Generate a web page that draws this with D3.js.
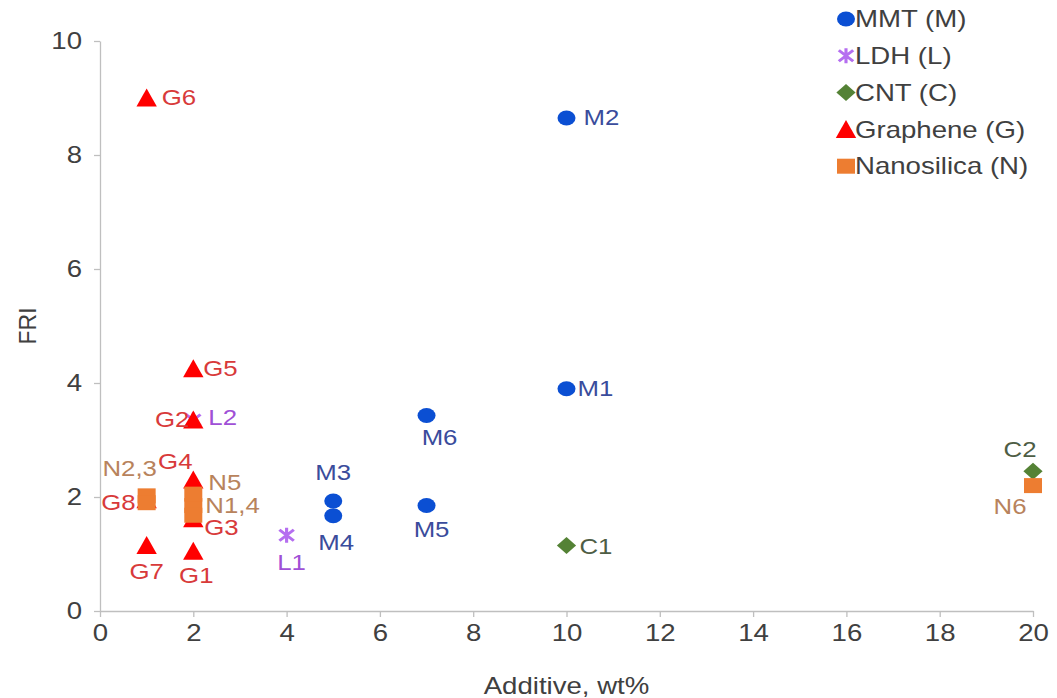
<!DOCTYPE html>
<html>
<head>
<meta charset="utf-8">
<script src="https://cdn.jsdelivr.net/npm/d3@7"></script>
<style>
  html, body { margin: 0; padding: 0; background: #ffffff; }
  svg { display: block; font-family: "Liberation Sans", Arial, sans-serif; }
</style>
</head>
<body>
<svg id="chart" width="1057" height="698"></svg>
<script>
// ---- data ----
const mmtX = [10, 10, 5, 5, 7, 7];
const mmtY = [3.9, 8.65, 1.93, 1.67, 1.85, 3.43];
const mmtLabels = ["M1", "M2", "M3", "M4", "M5", "M6"];

const ldhX = [4, 2];
const ldhY = [1.33, 3.35];
const ldhLabels = ["L1", "L2"];

const cntX = [10, 20];
const cntY = [1.15, 2.45];
const cntLabels = ["C1", "C2"];

const graX = [2, 2, 2, 2, 2, 1, 1, 1];
const graY = [1.05, 3.35, 1.62, 2.3, 4.25, 9.0, 1.15, 1.95];
const graLabels = ["G1", "G2", "G3", "G4", "G5", "G6", "G7", "G8"];

const nanoX = [2, 1, 1, 2, 2, 20];
const nanoY = [1.85, 2.02, 1.9, 1.68, 2.05, 2.2];
const nanoLabels = ["N1,4", "N2,3", "", "", "N5", "N6"];

const xTicks = [0, 2, 4, 6, 8, 10, 12, 14, 16, 18, 20];
const yTicks = [0, 2, 4, 6, 8, 10];
const xTitle = "Additive, wt%";
const yTitle = "FRI";

// ---- styling ----
const SX = 1.2;              // horizontal stretch applied to text and markers
const axisColor = "#bfbfbf";
const textColor = "#404040";

const series = [
  { name: "MMT (M)", xs: mmtX, ys: mmtY, labels: mmtLabels, shape: "circle", color: "#0b4fd3", labelColor: "#3a4c9c" },
  { name: "LDH (L)", xs: ldhX, ys: ldhY, labels: ldhLabels, shape: "asterisk", color: "#b56ef0", labelColor: "#a050d6" },
  { name: "CNT (C)", xs: cntX, ys: cntY, labels: cntLabels, shape: "diamond", color: "#548235", labelColor: "#4e5d45" },
  { name: "Graphene (G)", xs: graX, ys: graY, labels: graLabels, shape: "triangle", color: "#ff0000", labelColor: "#d83a3a" },
  { name: "Nanosilica (N)", xs: nanoX, ys: nanoY, labels: nanoLabels, shape: "square", color: "#ed7d31", labelColor: "#b8835c" }
];

// label placement: offset from marker centre (px) and anchor
const labelPlace = {
  M1: [11, 0, "start"], M2: [17, 0, "start"], M3: [0, -28, "middle"], M4: [3, 27, "middle"],
  M5: [5, 24, "middle"], M6: [13, 22, "middle"],
  L1: [5, 28, "middle"], L2: [15, -2, "start"],
  C1: [13, 1, "start"], C2: [-13, -22, "middle"],
  G1: [3, 25, "middle"], G2: [-4, 0, "end"], G3: [11, 9, "start"], G4: [-18, -18, "middle"],
  G5: [10, 0, "start"], G6: [15, 0, "start"], G7: [0, 26, "middle"], G8: [-11, 3, "end"],
  "N1,4": [12, 0, "start"], "N2,3": [-17, -27, "middle"], N5: [15, -11, "start"], N6: [-23, 21, "middle"]
};

const svg = d3.select("#chart");
const x = d3.scaleLinear().domain([0, 20]).range([100, 1033]);
const y = d3.scaleLinear().domain([0, 10]).range([611, 41]);

// ---- axes ----
const gx = svg.append("g").attr("transform", `translate(0,${y(0)})`)
  .call(d3.axisBottom(x).tickValues(xTicks).tickSize(6).tickPadding(8).tickSizeOuter(0).tickFormat(d3.format("d")));
const gy = svg.append("g").attr("transform", `translate(${x(0)},0)`)
  .call(d3.axisLeft(y).tickValues(yTicks).tickSize(6).tickPadding(12).tickSizeOuter(0).tickFormat(d3.format("d")));

[gx, gy].forEach(g => {
  g.select(".domain").attr("stroke", axisColor).attr("stroke-width", 1.3);
  g.selectAll(".tick line").attr("stroke", axisColor).attr("stroke-width", 1.3);
  g.selectAll(".tick text")
    .attr("fill", textColor)
    .attr("font-size", 23)
    .attr("font-family", "Liberation Sans, Arial, sans-serif")
    .attr("transform", `scale(${SX},1)`);
});
// keep the y labels 18px left of the axis after the horizontal stretch
gy.selectAll(".tick text").attr("x", -18 / SX);

// axis titles
svg.append("text")
  .attr("transform", `translate(${(x(0) + x(20)) / 2},694) scale(${SX},1)`)
  .attr("text-anchor", "middle").attr("font-size", 23).attr("fill", textColor)
  .text(xTitle);
svg.append("text")
  .attr("transform", `translate(36,${(y(0) + y(10)) / 2}) rotate(-90)`)
  .attr("text-anchor", "middle").attr("font-size", 23).attr("fill", textColor)
  .text(yTitle);

// ---- markers ----
function drawMarker(g, shape, color) {
  if (shape === "circle") {
    g.append("circle").attr("r", 7.5).attr("fill", color);
  } else if (shape === "square") {
    g.append("rect").attr("x", -7.5).attr("y", -7.5).attr("width", 15).attr("height", 15).attr("fill", color);
  } else if (shape === "diamond") {
    g.append("path").attr("d", "M0,-8.5L8,0L0,8.5L-8,0Z").attr("fill", color);
  } else if (shape === "triangle") {
    g.append("path").attr("d", "M0,-9.5L8.5,8.5L-8.5,8.5Z").attr("fill", color);
  } else if (shape === "asterisk") {
    g.append("path").attr("d", "M0,-7.5L0,7.5M-6,-5.5L6,5.5M-6,5.5L6,-5.5")
      .attr("stroke", color).attr("stroke-width", 2.6).attr("fill", "none");
  }
}

const plot = svg.append("g");
series.forEach(s => {
  s.xs.forEach((xv, i) => {
    const g = plot.append("g").attr("transform", `translate(${x(xv)},${y(s.ys[i])}) scale(${SX},1)`);
    drawMarker(g, s.shape, s.color);
  });
});

// ---- data labels ----
const labelLayer = svg.append("g");
series.forEach(s => {
  s.xs.forEach((xv, i) => {
    const lab = s.labels[i];
    if (!lab) return;
    const p = labelPlace[lab] || [10, 0, "start"];
    labelLayer.append("text")
      .attr("transform", `translate(${x(xv) + p[0]},${y(s.ys[i]) + p[1]}) scale(${SX},1)`)
      .attr("text-anchor", p[2])
      .attr("dominant-baseline", "central")
      .attr("font-size", 21.5)
      .attr("fill", s.labelColor)
      .text(lab);
  });
});

// ---- legend ----
const legend = svg.append("g");
series.forEach((s, i) => {
  const ly = 19 + i * 36.8;
  const g = legend.append("g").attr("transform", `translate(846,${ly}) scale(${SX},1)`);
  drawMarker(g, s.shape, s.color);
  legend.append("text")
    .attr("transform", `translate(855,${ly}) scale(${SX},1)`)
    .attr("dominant-baseline", "central")
    .attr("font-size", 23)
    .attr("fill", textColor)
    .text(s.name);
});
</script>
</body>
</html>
